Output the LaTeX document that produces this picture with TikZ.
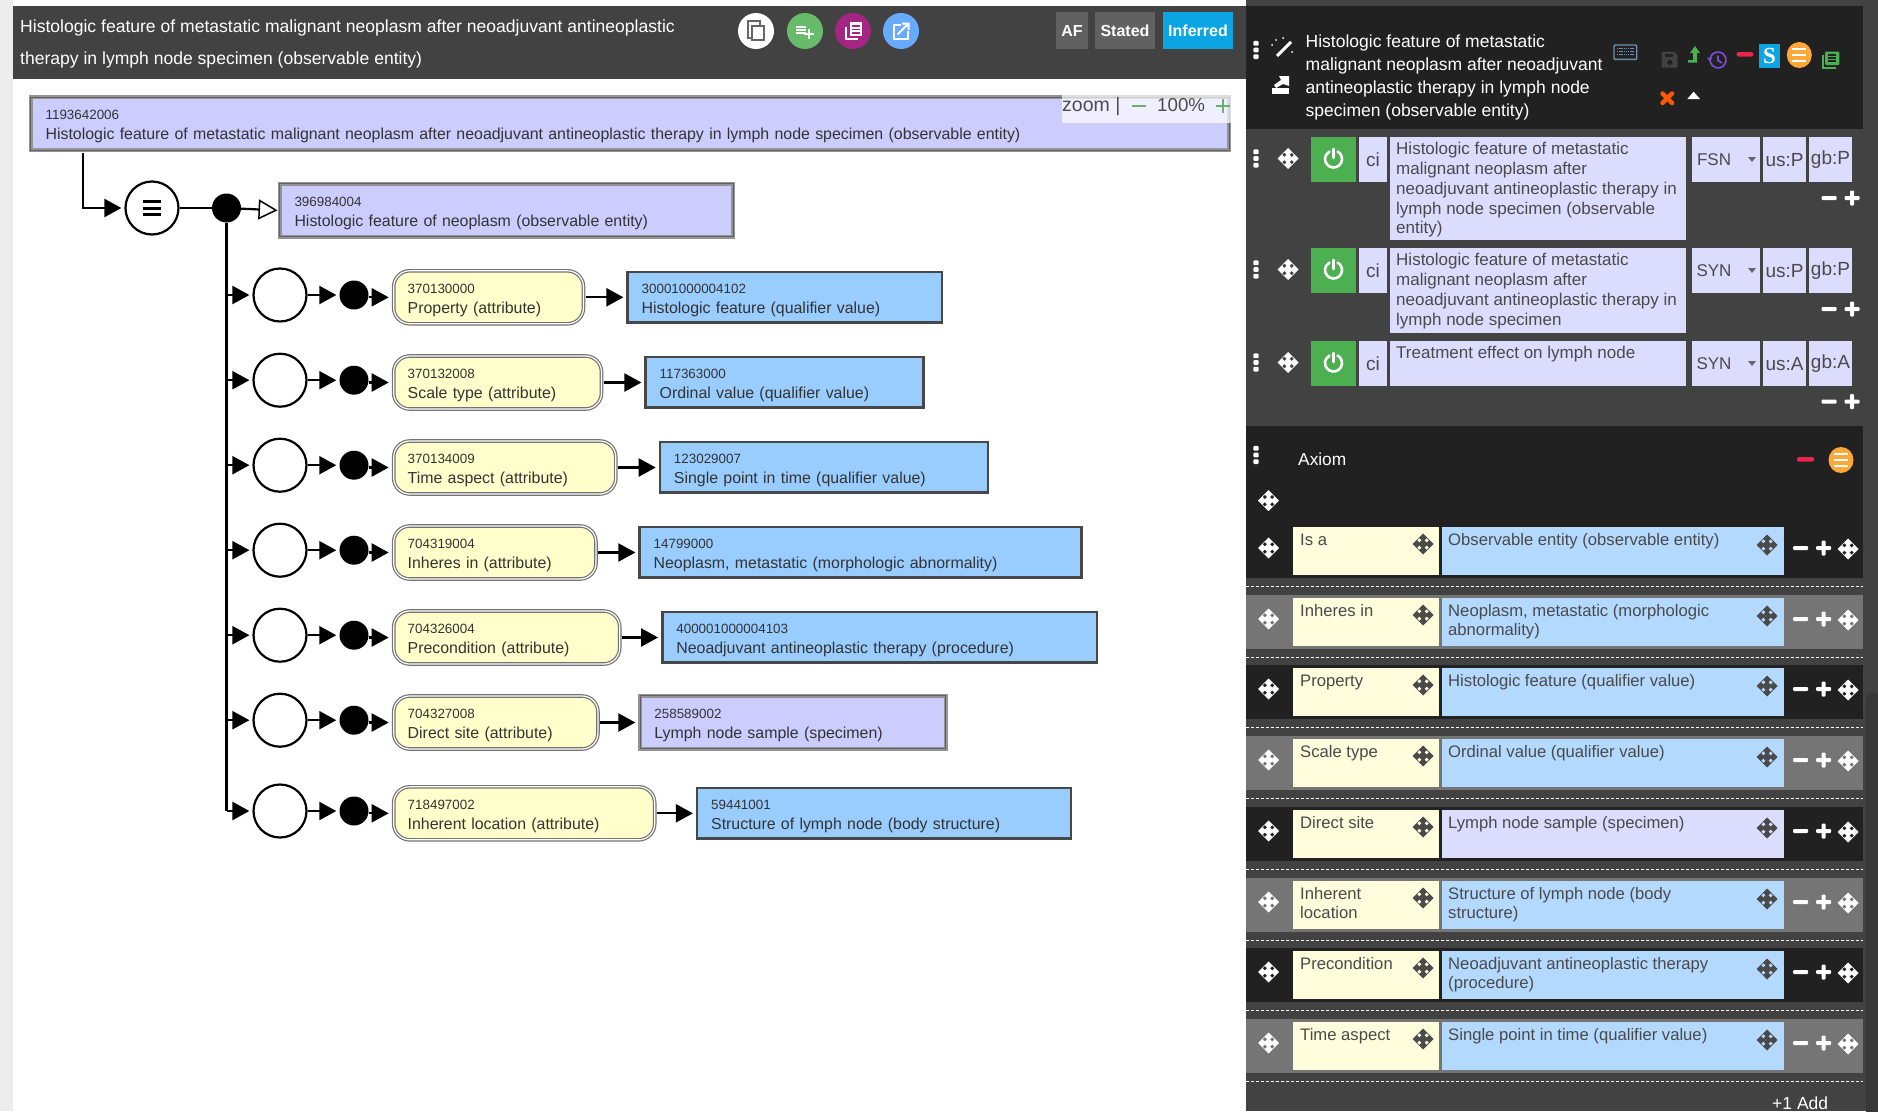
\documentclass[tikz,border=0pt]{standalone}
\usepackage{fontspec}
\setmainfont{Liberation Sans}
\usetikzlibrary{positioning}
\usetikzlibrary{arrows.meta}
\definecolor{barcolor}{HTML}{424242}
\definecolor{blackrow}{HTML}{212121}
\definecolor{grayrow}{HTML}{757575}
\definecolor{primcolor}{HTML}{CCCCFF}
\definecolor{valcolor}{HTML}{99CCFF}
\definecolor{attrcolor}{HTML}{FFFFCC}
\definecolor{celllav}{HTML}{DCDCFF}
\definecolor{cellblue}{HTML}{B3D9FF}
\definecolor{cellyel}{HTML}{FFFDDC}
\definecolor{termtext}{HTML}{4A4A4A}
\definecolor{okgreen}{HTML}{4CAF50}
\definecolor{minusred}{HTML}{E8274B}
\definecolor{skyblue}{HTML}{0AA5E2}
\definecolor{orangedot}{HTML}{FFA83A}
\definecolor{keycolor}{HTML}{6F8FAF}
\newcommand{\idfont}{\fontsize{13.4}{20}\selectfont\rule{0pt}{16pt}}
\newcommand{\namefont}{\fontsize{15.9}{20}\selectfont}
\tikzset{
    primbox/.style={rectangle, draw=black!42, double=black!62, line width=1.5pt, double distance=1pt, outer sep=2pt, fill=primcolor, text=black!80, anchor=west, align=left, inner xsep=15pt, inner ysep=0pt, font=\namefont, minimum height=53pt},
    valbox/.style={rectangle, draw=black!72, line width=2.5pt, outer sep=1.25pt, fill=valcolor, text=black!80, anchor=west, align=left, inner xsep=14pt, inner ysep=0pt, font=\namefont, minimum height=50.5pt},
    attrbox/.style={rectangle, rounded corners=16pt, draw=black!55, double=white, line width=1.2pt, double distance=1.2pt, outer sep=2pt, fill=attrcolor, text=black!80, anchor=west, align=left, inner xsep=14pt, inner ysep=0pt, font=\namefont, minimum height=53pt},
    joincircle/.style={circle, draw=black, fill=white, line width=2.2pt, minimum size=53pt, inner sep=0pt},
    joindot/.style={circle, fill=black, minimum size=29pt, inner sep=0pt},
    flow/.style={-{Triangle[length=17pt,width=18pt]}, line width=2.2pt, shorten >=3pt},
    isa/.style={-{Triangle[open,fill=white,length=19pt,width=20pt,line width=1.5pt]}, line width=2.2pt},
    conn/.style={line width=2.2pt},
    headtext/.style={text=white, inner sep=0pt, anchor=base west, font=\fontsize{17.55}{20}\selectfont},
    btntext/.style={text=white, inner sep=0pt, font=\bfseries\fontsize{16}{20}\selectfont},
    paneltext/.style={inner sep=0pt, anchor=north west, align=left, font=\fontsize{17}{19.7}\selectfont},
    celltext/.style={inner sep=0pt, font=\fontsize{17}{20}\selectfont, text=termtext},
    dashrule/.style={white, line width=1pt, dash pattern=on 3pt off 2pt},
    pics/moveicon/.style 2 args={code={
        \fill[#1] (0,-10.5) -- (10.5,0) -- (0,10.5) -- (-10.5,0) -- cycle;
        \foreach \sx/\sy in {1/1, 1/-1, -1/1, -1/-1}
            \fill[#2] (3.7*\sx,3.7*\sy-2) -- (3.7*\sx+2,3.7*\sy) -- (3.7*\sx,3.7*\sy+2) -- (3.7*\sx-2,3.7*\sy) -- cycle;
    }},
    pics/gripicon/.style={code={
        \foreach \gy in {-6.7, 0, 6.7}
            \fill[white, rounded corners=1pt] (-2.6,\gy-2.4) rectangle (2.6,\gy+2.4);
    }},
    pics/poweron/.style={code={
        \draw[white, line width=2.6pt, line cap=round] ([shift={(62:8.5pt)}]0,0) arc (62:-242:8.5pt);
        \draw[white, line width=2.6pt, line cap=round] (0,-10) -- (0,-1);
    }},
    pics/minusplus/.style={code={
        \fill[white, rounded corners=1pt] (-7.5,-2) rectangle (7.5,2);
        \fill[white, rounded corners=1pt] (15.5,-2) rectangle (30.5,2);
        \fill[white, rounded corners=1pt] (21,-7.5) rectangle (25,7.5);
    }},
    pics/orangemenu/.style={code={
        \fill[orangedot] (0,0) ellipse [x radius=12.5, y radius=13];
        \foreach \gy in {-6, 0, 6}
            \draw[white, line width=2.2pt] (-7,\gy) -- (7,\gy);
    }},
}
\begin{document}
\begin{tikzpicture}[x=1pt, y=-1pt]
    \useasboundingbox (0,0) rectangle (1878,1111);
    \fill[white] (0,0) rectangle (1878,1111);
    \fill[black!7] (0,0) rectangle (13,1111);

    % header bar
    \fill[barcolor] (13,6) rectangle (1246,79);
    \node (headone) [headtext] at (20,32) {Histologic feature of metastatic malignant neoplasm after neoadjuvant antineoplastic};
    \node (headtwo) [headtext] at (20,64) {therapy in lymph node specimen (observable entity)};
    \fill[white] (756,31) circle [radius=18];
    \fill[okgreen!85!white] (805,31) circle [radius=18];
    \fill[violet!70!purple!85!white] (853,31) circle [radius=18];
    \fill[blue!55!cyan!60!white] (901,31) circle [radius=18];
    \draw[black!60, line width=1.8pt] (747.7,21) rectangle (760,38);
    \draw[black!60, line width=1.8pt, fill=white] (751.7,25.7) rectangle (764,40);
    \foreach \ly in {26.7, 30, 33.3}
        \draw[white, line width=1.8pt] (795.7,\ly) -- (806,\ly);
    \draw[white, line width=2pt] (804,34.3) -- (814,34.3) (809,29.3) -- (809,39.3);
    \draw[white, line width=2pt] (845.5,27) -- (845.5,38.5) -- (858,38.5);
    \fill[white] (849.5,22.3) rectangle (862.3,36);
    \foreach \ly in {26, 29.5, 33}
        \draw[violet!70!purple!85!white, line width=1.2pt] (852,\ly) -- (860,\ly);
    \draw[white, line width=2pt] (901,24.5) -- (893.5,24.5) -- (893.5,38.5) -- (908,38.5) -- (908,31);
    \draw[white, line width=2pt] (897.5,34.5) -- (908.5,23.5) (902,23.5) -- (908.5,23.5) -- (908.5,30);
    \fill[black!62] (1056,12) rectangle (1088,49);
    \fill[black!62] (1095,12) rectangle (1155,49);
    \fill[skyblue] (1163,12) rectangle (1233,49);
    \node (btnaf) [btntext] at (1072,30.5) {AF};
    \node (btnstated) [btntext] at (1125,30.5) {Stated};
    \node (btninferred) [btntext] at (1198,30.5) {Inferred};

    % diagram
    \node (rootbox) [primbox, minimum width=1198.4pt, text width=1168.4pt] at (28.6,123.5) {\idfont 1193642006\\\namefont Histologic feature of metastatic malignant neoplasm after neoadjuvant antineoplastic therapy in lymph node specimen (observable entity)};
    \node (eqcircle) [joincircle] at (152,208) {};
    \foreach \gy in {-6.7, 0, 6.7}
        \draw[black, line width=3pt] (143,208+\gy) -- (161,208+\gy);
    \node (hubdot) [joindot] at (226.5,208) {};
    \node (parentbox) [primbox, minimum width=453.5pt, text width=423.5pt] at (277.5,210.3) {\idfont 396984004\\\namefont Histologic feature of neoplasm (observable entity)};
    \coordinate (rootdrop) at (83,153);
    \draw [flow] (rootdrop) |- (eqcircle.west);
    \draw [conn] (eqcircle) -- (hubdot);
    \draw [isa] (hubdot) -- (parentbox.west);

    \foreach \rowy/\attrid/\attrname/\attrend/\valid/\valname/\valstart/\valend/\valstyle [count=\rownum] in {
        295/370130000/Property (attribute)/584.5/30001000004102/Histologic feature (qualifier value)/626.4/943/valbox,
        380.2/370132008/Scale type (attribute)/602.5/117363000/Ordinal value (qualifier value)/644.4/924.6/valbox,
        465.2/370134009/Time aspect (attribute)/616.8/123029007/Single point in time (qualifier value)/658.7/989.3/valbox,
        550.2/704319004/Inheres in (attribute)/597/14799000/{Neoplasm, metastatic (morphologic abnormality)}/638.4/1082.7/valbox,
        635.2/704326004/Precondition (attribute)/620.7/400001000004103/Neoadjuvant antineoplastic therapy (procedure)/661.1/1098.3/valbox,
        720.2/704327008/Direct site (attribute)/599/258589002/Lymph node sample (specimen)/638.4/946.2/primbox,
        811/718497002/Inherent location (attribute)/655.7/59441001/Structure of lymph node (body structure)/695.9/1072/valbox} {
        \pgfmathsetmacro\attrw{\attrend-391.7-3}
        \pgfmathsetmacro\attrtw{\attrw-28}
        \pgfmathsetmacro\valw{\valend-\valstart-2.5}
        \pgfmathsetmacro\valtw{\valw-28}
        \coordinate (branch\rownum) at (226.5,\rowy);
        \node (circle\rownum) [joincircle] at (280,\rowy) {};
        \node (dot\rownum) [joindot] at (354,\rowy) {};
        \node (attr\rownum) [attrbox, minimum width=\attrw pt, text width=\attrtw pt] at (391.7,\rowy+2.3) {\idfont\attrid\\\namefont \attrname};
        \node (val\rownum) [\valstyle, inner xsep=14pt, minimum width=\valw pt, text width=\valtw pt] at (\valstart,\rowy+2.2) {\idfont\valid\\\namefont \valname};
        \draw [flow] (branch\rownum) -- (circle\rownum.west);
        \draw [flow] (circle\rownum.east) -- (dot\rownum.west);
        \draw [flow] (dot\rownum.east |- attr\rownum.west) -- (attr\rownum.west);
        \draw [flow] (attr\rownum.east) -- (val\rownum.west |- attr\rownum.east);
    }
    \draw [conn] (hubdot) -- (branch7);

    % zoom control
    \fill[white, fill opacity=.7] (1062,94) rectangle (1231,123);
    \node (zoomword) [inner sep=0pt, anchor=base west, text=black!70, font=\fontsize{19.5}{22}\selectfont] at (1062,111) {zoom |};
    \node (zoomvalue) [inner sep=0pt, anchor=base west, text=black!70, font=\fontsize{18.7}{22}\selectfont] at (1157,111) {100\%};
    \draw[green!50!black!60!white, line width=1.2pt] (1132,106) -- (1146,106);
    \draw[green!50!black!60!white, line width=1.2pt] (1216,106) -- (1230,106) (1223,99) -- (1223,113);

    % right panel
    \fill[barcolor] (1246,0) rectangle (1878,1111);
    \fill[black!78, rounded corners=6pt] (1866,692) rectangle (1878,1125);
    \fill[blackrow] (1246,6) rectangle (1863,129);
    \pic at (1256,50) {gripicon};
    \draw[white, line width=3pt] (1277,56) -- (1291,42);
    \foreach \sx/\sy in {1276/40, 1283/38, 1292/52, 1272/45}
        \fill[white] (\sx,\sy) circle [radius=1];
    \fill[white] (1272,88) rectangle (1289,94);
    \fill[white] (1279,76) -- (1289,76) -- (1289,86) -- (1283,84) -- (1276,88) -- (1274,85) -- (1281,80) -- cycle;
    \node (paneltitle) [paneltext, text=white, font=\fontsize{17.5}{23.3}\selectfont] at (1305.5,30.5) {\strut Histologic feature of metastatic\\malignant neoplasm after neoadjuvant\\antineoplastic therapy in lymph node\\specimen (observable entity)};
    \draw[keycolor, line width=1.4pt, rounded corners=1pt] (1614,45) rectangle (1636.7,59.3);
    \foreach \ly in {48.5, 51.5, 54.5}
        \draw[keycolor, line width=1.6pt, dash pattern=on 1.4pt off .8pt] (1617,\ly) -- (1634,\ly);
    \fill[barcolor, rounded corners=1pt] (1661.7,51.7) -- (1674,51.7) -- (1677.7,55.4) -- (1677.7,67.7) -- (1661.7,67.7) -- cycle;
    \fill[blackrow] (1664.5,53.5) rectangle (1673,57);
    \fill[blackrow] (1669.7,62.5) circle [radius=2.6];
    \fill[okgreen] (1695,46) -- (1700,53) -- (1697,53) -- (1697,62.5) -- (1688,62.5) -- (1688,60) -- (1693,60) -- (1693,53) -- (1690,53) -- cycle;
    \draw[violet!50!blue!70!white, line width=1.7pt] ([shift={(170:8pt)}]1718,60) arc (170:-170:8pt);
    \draw[violet!50!blue!70!white, line width=1.7pt] (1718,55.5) -- (1718,60.5) -- (1722,63);
    \fill[violet!50!blue!70!white] (1707,57.5) -- (1712.5,57.5) -- (1709.8,62) -- cycle;
    \fill[minusred, rounded corners=1.5pt] (1736.7,52) rectangle (1753.3,56.7);
    \fill[skyblue] (1759,44) rectangle (1780,67.7);
    \node (skin) [inner sep=0pt, text=white, font=\bfseries\fontsize{23}{24}\selectfont] at (1769.5,55.5) {\fontspec{Liberation Serif}S};
    \pic at (1799.3,55) {orangemenu};
    \draw[okgreen, line width=1.5pt] (1822.8,55) -- (1822.8,67.8) -- (1836,67.8);
    \fill[okgreen, rounded corners=1pt] (1825,51.7) rectangle (1839.3,65);
    \foreach \ly in {55, 58, 61}
        \draw[blackrow, line width=1.1pt] (1828,\ly) -- (1836,\ly);
    \draw[orange!70!red, line width=4.5pt, line cap=round] (1662.5,93.5) -- (1672,103) (1672,93.5) -- (1662.5,103);
    \fill[white] (1687.3,99) -- (1693.6,91.7) -- (1700,99) -- cycle;

    % description rows
    \foreach \rowtop/\rowlow/\rowmark/\termlines/\langcode/\uscode/\gbcode [count=\rowind] in {
        137/240/198/{Histologic feature of metastatic\\malignant neoplasm after\\neoadjuvant antineoplastic therapy in\\lymph node specimen (observable\\entity)}/FSN/us:P/gb:P,
        248/333/309/{Histologic feature of metastatic\\malignant neoplasm after\\neoadjuvant antineoplastic therapy in\\lymph node specimen}/SYN/us:P/gb:P,
        341/386/401.7/{Treatment effect on lymph node}/SYN/us:A/gb:A} {
        \pic at (1256,\rowtop+21.5) {gripicon};
        \pic at (1288,\rowtop+21.5) {moveicon={white}{barcolor}};
        \fill[okgreen] (1311,\rowtop) rectangle (1356,\rowtop+45);
        \pic at (1333.5,\rowtop+22) {poweron};
        \fill[celllav] (1359,\rowtop) rectangle (1387,\rowtop+45);
        \fill[celllav] (1390,\rowtop) rectangle (1686,\rowlow);
        \fill[celllav] (1692,\rowtop) rectangle (1760,\rowtop+45);
        \fill[celllav] (1763,\rowtop) rectangle (1806,\rowtop+45);
        \fill[celllav] (1809,\rowtop) rectangle (1852,\rowtop+45);
        \fill[black!60] (1748,\rowtop+20) -- (1756,\rowtop+20) -- (1752,\rowtop+25) -- cycle;
        \node (ci\rowind) [celltext, font=\fontsize{19}{22}\selectfont] at (1373,\rowtop+23) {ci};
        \node (term\rowind) [paneltext, text=termtext] at (1396,\rowtop+4) {\strut\termlines};
        \node (lang\rowind) [celltext] at (1714,\rowtop+23) {\langcode};
        \node (us\rowind) [celltext, font=\fontsize{19}{22}\selectfont] at (1784.5,\rowtop+23) {\uscode};
        \node (gb\rowind) [celltext, font=\fontsize{19}{22}\selectfont] at (1830.5,\rowtop+23) {\gbcode};
        \pic at (1829,\rowmark) {minusplus};
    }

    % axiom
    \fill[blackrow] (1246,426) rectangle (1863,524);
    \pic at (1256,455) {gripicon};
    \node (axiomword) [headtext, font=\fontsize{17.3}{20}\selectfont] at (1298,465.5) {Axiom};
    \fill[minusred, rounded corners=1.5pt] (1797,457) rectangle (1814,461.7);
    \pic at (1841,460) {orangemenu};
    \pic at (1268.5,500.7) {moveicon={white}{blackrow}};

    \foreach \rowtop/\rowfill/\attrname/\valname/\cellfill [count=\axind] in {
        524/blackrow/Is a/{Observable entity (observable entity)}/cellblue,
        595/grayrow/Inheres in/{Neoplasm, metastatic (morphologic\\abnormality)}/cellblue,
        665/blackrow/Property/{Histologic feature (qualifier value)}/cellblue,
        736/grayrow/Scale type/{Ordinal value (qualifier value)}/cellblue,
        807/blackrow/Direct site/{Lymph node sample (specimen)}/celllav,
        878/grayrow/Inherent\\location/{Structure of lymph node (body\\structure)}/cellblue,
        948/blackrow/Precondition/{Neoadjuvant antineoplastic therapy\\(procedure)}/cellblue,
        1019/grayrow/Time aspect/{Single point in time (qualifier value)}/cellblue} {
        \fill[\rowfill] (1246,\rowtop) rectangle (1863,\rowtop+54);
        \fill[cellyel] (1293,\rowtop+3) rectangle (1439,\rowtop+51);
        \fill[\cellfill] (1442,\rowtop+3) rectangle (1784,\rowtop+51);
        \draw[dashrule] (1246,\rowtop+62) -- (1863,\rowtop+62);
        \node (attrcell\axind) [paneltext, text=termtext, font=\fontsize{16.65}{19}\selectfont] at (1300,\rowtop+7.5) {\strut\attrname};
        \node (valcell\axind) [paneltext, text=termtext, font=\fontsize{16.65}{19}\selectfont] at (1448,\rowtop+7.5) {\strut\valname};
        \pic at (1268.5,\rowtop+24) {moveicon={white}{\rowfill}};
        \pic at (1423,\rowtop+20) {moveicon={termtext}{cellyel}};
        \pic at (1767,\rowtop+21) {moveicon={termtext}{\cellfill}};
        \pic at (1800.6,\rowtop+24) {minusplus};
        \pic at (1848,\rowtop+25) {moveicon={white}{\rowfill}};
    }
    \node (addword) [headtext, font=\fontsize{17.5}{20}\selectfont] at (1772,1109) {+1 Add};
\end{tikzpicture}
\end{document}
